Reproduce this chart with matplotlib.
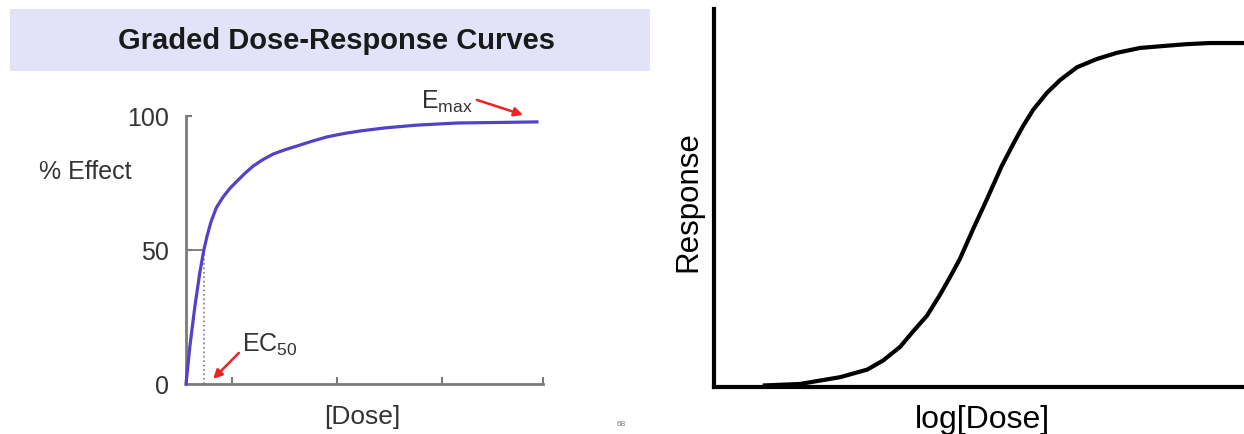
import matplotlib
matplotlib.use("Agg")
from matplotlib import pyplot as plt
from matplotlib.patches import Rectangle

plt.rcParams['font.family'] = ['Liberation Sans', 'DejaVu Sans']
plt.rcParams['mathtext.fontset'] = 'custom'
plt.rcParams['mathtext.rm'] = 'Liberation Sans'

# left chart: graded dose-response, % effect vs [dose]
dose = [0, 1.1, 2.5, 3.9, 5.0, 5.9, 7.0, 8.5, 10.4, 12.3, 14.3, 16.5, 18.8, 21.5, 24.4, 27.7,
        31.1, 35.3, 39.5, 44.0, 48.7, 56.0, 64.7, 76.2, 88.0, 98.3]
effect = [0, 14.2, 29.1, 41.8, 50.0, 55.2, 60.5, 65.8, 69.8, 73.0, 75.7, 78.6, 81.3, 83.7, 85.8, 87.4,
          88.8, 90.6, 92.2, 93.4, 94.4, 95.6, 96.6, 97.4, 97.6, 97.8]
ec50 = 5.0
dose_ticks = [12.9, 42.3, 71.7, 100]
effect_ticks = [0, 50, 100]
effect_labels = ["0", "50", "100"]

# right chart: log dose vs response (sigmoid)
log_dose = [0.92, 1.62, 2.0, 2.38, 2.89, 3.19, 3.51, 3.75, 4.02, 4.26, 4.45, 4.64, 4.89, 5.15, 5.43,
            5.68, 5.83, 6.02, 6.28, 6.53, 6.85, 7.23, 7.60, 8.04, 8.47, 8.92, 9.36, 10.0]
response = [0.004, 0.008, 0.017, 0.026, 0.046, 0.070, 0.106, 0.146, 0.189, 0.243, 0.290, 0.339, 0.418,
            0.497, 0.585, 0.652, 0.690, 0.733, 0.778, 0.812, 0.846, 0.868, 0.884, 0.897, 0.902, 0.907,
            0.910, 0.910]

W, H = 1244, 435
fig = plt.figure(figsize=(W / 100, H / 100), dpi=100)

def fx(px):
    return px / W

def fy(py):
    return 1 - py / H

# title banner
fig.patches.append(Rectangle((fx(10), fy(72)), fx(640), 62 / H, transform=fig.transFigure,
                             facecolor='#e2e2f8', edgecolor='none', zorder=0))
fig.text(fx(337), fy(41), "Graded Dose-Response Curves", ha='center', va='center',
         fontsize=21, fontweight='bold', color='#1a1a1a')

grey = '#7a7a7a'
txt = '#333333'

ax1 = fig.add_axes([fx(186), fy(385), 357 / W, 268 / H])
ax1.plot(dose, effect, color='#5242c8', lw=2.3, clip_on=False, zorder=3,
         solid_joinstyle='round')
ax1.plot([0, ec50], [50, 50], color=grey, lw=1.3)
ax1.plot([ec50, ec50], [0, 50], color=grey, lw=1.2, ls=':')
ax1.set_xlim(0, 100)
ax1.set_ylim(0, 100)
for s in ['top', 'right']:
    ax1.spines[s].set_visible(False)
for s in ['left', 'bottom']:
    ax1.spines[s].set_color(grey)
    ax1.spines[s].set_linewidth(2)
ax1.set_xticks(dose_ticks)
ax1.set_xticklabels([])
ax1.set_yticks(effect_ticks)
ax1.set_yticklabels(effect_labels)
ax1.tick_params(axis='x', direction='in', length=5, width=1.5, color=grey)
ax1.tick_params(axis='y', direction='in', length=4, width=1.5, color=grey,
                labelsize=18, labelcolor=txt, pad=12)
ax1.yaxis.get_major_ticks()[0].tick1line.set_visible(False)

ax1.text(73, 105.5, r'$\mathregular{E_{max}}$', ha='center', va='center', fontsize=18,
         color=txt, clip_on=False)
ax1.annotate('', xy=(94.4, 100.4), xytext=(81.5, 106), textcoords='data', annotation_clip=False,
             arrowprops=dict(arrowstyle='-|>', color='#ee2222', lw=1.8, shrinkA=0, shrinkB=0,
                             mutation_scale=13))
ax1.text(15.7, 14.9, r'$\mathregular{EC_{50}}$', ha='left', va='center', fontsize=18,
         color=txt, clip_on=False)
ax1.annotate('', xy=(7.6, 1.9), xytext=(14.8, 11.6), textcoords='data', annotation_clip=False,
             arrowprops=dict(arrowstyle='-|>', color='#ee2222', lw=1.8, shrinkA=0, shrinkB=0,
                             mutation_scale=13))

fig.text(fx(85), fy(172), "% Effect", ha='center', va='center', fontsize=18, color=txt)
fig.text(fx(362), fy(417), "[Dose]", ha='center', va='center', fontsize=19, color=txt)
fig.text(fx(621), fy(425), "68", ha='center', va='center', fontsize=6, color='#777777')

ax2 = fig.add_axes([fx(714), fy(388), 530 / W, 378 / H])
ax2.plot(log_dose, response, color='black', lw=3, clip_on=False, solid_capstyle='butt',
         solid_joinstyle='round')
ax2.set_xlim(0, 10)
ax2.set_ylim(0, 1)
for s in ['top', 'right']:
    ax2.spines[s].set_visible(False)
for s in ['left', 'bottom']:
    ax2.spines[s].set_linewidth(3)
ax2.set_xticks([])
ax2.set_yticks([])
fig.text(fx(688), fy(202), "Response", ha='center', va='center', rotation=90, fontsize=22.5)
fig.text(fx(982), fy(420), "log[Dose]", ha='center', va='center', fontsize=23)

plt.savefig("out.png", dpi=100)
